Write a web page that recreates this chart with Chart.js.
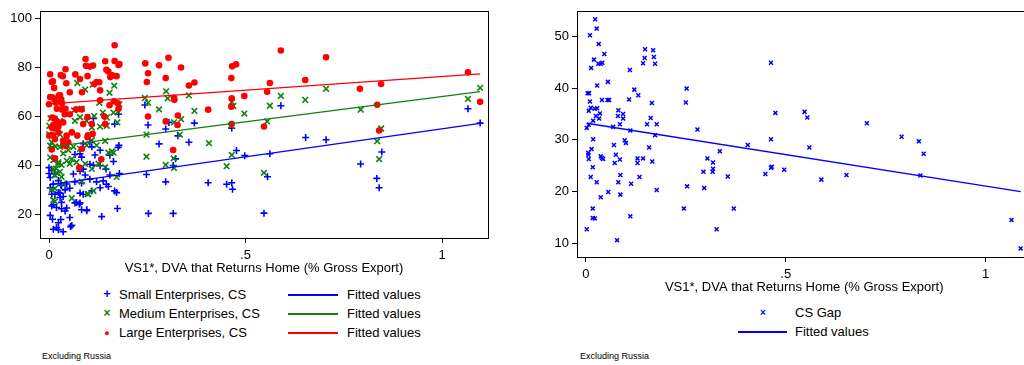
<!DOCTYPE html>
<html>
<head>
<meta charset="utf-8">
<script src="https://cdn.jsdelivr.net/npm/chart.js@4"></script>
<style>
  html, body { margin: 0; padding: 0; background: #fff; overflow: hidden; width: 1024px; height: 365px; }
  body { position: relative; font-family: "Liberation Sans", Arial, sans-serif; color: #000; }
  canvas { position: absolute; top: 0; }
  #leftChart { left: 0; }
  #rightChart { left: 537px; }
  .lg { position: absolute; font-size: 13px; line-height: 16px; white-space: nowrap; }
  .mk { position: absolute; text-align: center; width: 14px; line-height: 16px; }
  .ln { position: absolute; height: 1.5px; }
  .note { position: absolute; font-size: 9px; white-space: nowrap; }
</style>
</head>
<body>
<canvas id="leftChart" width="500" height="276"></canvas>
<canvas id="rightChart" width="500" height="295"></canvas>

<!-- left legend -->
<div class="mk" style="left:100px; top:286px; color:#0000ff; font-size:13px; font-weight:bold;">+</div>
<div class="lg" style="left:119px; top:287px;">Small Enterprises, CS</div>
<div class="ln" style="left:288px; top:294px; width:50px; background:#0000ff;"></div>
<div class="lg" style="left:347px; top:287px;">Fitted values</div>

<div class="mk" style="left:100px; top:305px; color:#108010; font-size:12px; font-weight:bold;">×</div>
<div class="lg" style="left:119px; top:306px;">Medium Enterprises, CS</div>
<div class="ln" style="left:288px; top:313px; width:50px; background:#108010;"></div>
<div class="lg" style="left:347px; top:306px;">Fitted values</div>

<div class="mk" style="left:100px; top:325px; color:#ff0000; font-size:9px;">●</div>
<div class="lg" style="left:119px; top:325px;">Large Enterprises, CS</div>
<div class="ln" style="left:288px; top:332px; width:50px; background:#ff0000;"></div>
<div class="lg" style="left:347px; top:325px;">Fitted values</div>

<div class="note" style="left:42px; top:351px;">Excluding Russia</div>

<!-- right legend -->
<div class="mk" style="left:756px; top:305px; color:#0000ff; font-size:10px; font-weight:bold;">×</div>
<div class="lg" style="left:795px; top:305px;">CS Gap</div>
<div class="ln" style="left:738px; top:331px; width:49px; background:#0000ff;"></div>
<div class="lg" style="left:795px; top:324px;">Fitted values</div>

<div class="note" style="left:580px; top:351px;">Excluding Russia</div>

<script>
// --- Data (x = VS1* share, y = value) ---
let smallCS = [
  [0.000,39.2],[0.007,38.2],[0.003,35.2],[0.011,32.5],[0.015,36.6],[0.024,33.9],[0.032,31.9],[0.003,31.0],
  [0.007,28.3],[0.015,28.3],[0.024,29.0],[0.028,27.0],[0.032,25.0],[0.007,23.5],[0.019,22.9],[0.032,22.4],
  [0.041,21.5],[0.003,19.7],[0.009,18.1],[0.024,16.7],[0.011,14.0],[0.024,13.8],[0.036,13.0],[0.055,15.1],
  [0.053,18.8],[0.070,25.0],[0.077,24.3],[0.083,22.0],[0.096,21.6],[0.134,19.2],[0.087,28.3],[0.109,29.7],
  [0.130,31.0],[0.146,32.4],[0.167,29.7],[0.172,29.0],[0.174,22.5],[0.045,32.5],[0.066,33.4],[0.083,32.9],
  [0.104,34.5],[0.121,33.4],[0.062,36.6],[0.087,38.6],[0.104,40.6],[0.130,40.0],[0.145,38.6],[0.164,41.7],
  [0.155,44.3],[0.130,46.3],[0.109,47.7],[0.176,47.5],[0.087,49.0],[0.104,49.6],[0.083,43.5],[0.079,44.9],
  [0.253,20.5],[0.316,20.5],[0.297,33.4],[0.316,40.1],[0.322,42.8],[0.328,52.2],[0.356,49.6],[0.280,48.9],
  [0.248,36.4],[0.405,33.0],[0.452,32.4],[0.465,33.0],[0.467,30.4],[0.477,46.2],[0.498,44.1],
  [0.562,44.9],[0.653,51.5],[0.705,50.6],[0.793,40.7],[0.834,34.8],[0.840,31.0],[0.847,45.6],[0.556,35.5],
  [0.547,20.6],[1.097,57.4],[0.590,64.5],[1.066,63.3],
  [0.113,59.3],[0.167,57.0],[0.177,61.0],[0.244,64.8],[0.252,56.6],[0.297,55.0],[0.305,57.7],[0.370,57.4],
  [0.465,55.3],[0.178,48.3],[0.117,44.4],[0.066,44.6],[0.000,36.8],[0.030,32.1],[0.041,30.1],[0.053,30.8],
  [0.028,28.8],[0.036,27.4],[0.011,24.1],[0.045,22.7],[0.030,18.0],[0.058,15.6],[0.019,14.7],[0.079,28.8],
  [0.096,22.0],[0.151,31.5],[0.138,33.8],[0.113,40.2],[0.155,36.2],[0.179,36.8],[0.079,37.8],[0.092,36.2],
  [0.066,24.8],[0.079,24.8]
];

let mediumCS = [
  [0.590,68.5],[0.562,64.5],[0.497,61.3],[0.652,66.9],[0.705,71.4],[0.555,58.1],[0.793,62.9],[1.066,67.3],
  [1.097,71.8],[0.845,55.2],[0.835,50.0],[0.840,42.7],[0.547,37.1],
  [0.072,73.8],[0.092,71.1],[0.111,73.1],[0.166,72.7],[0.154,69.8],[0.128,65.7],[0.083,63.3],[0.115,60.3],
  [0.137,61.7],[0.147,59.7],[0.164,61.7],[0.176,62.0],[0.179,65.1],[0.244,67.7],[0.252,65.7],[0.280,63.0],
  [0.298,70.4],[0.302,67.5],[0.318,57.7],[0.336,59.0],[0.356,68.7],[0.370,62.4],[0.465,66.0],[0.469,64.4],
  [0.463,56.3],[0.004,59.3],[0.028,58.3],[0.066,58.3],[0.079,59.8],[0.096,58.3],[0.109,55.6],[0.130,56.0],
  [0.147,56.3],[0.174,57.7],[0.011,55.6],[0.064,62.6],
  [0.001,56.3],[0.003,52.3],[0.007,49.6],[0.015,47.9],[0.028,47.6],[0.045,48.6],[0.079,46.9],[0.096,48.3],
  [0.121,48.3],[0.151,45.3],[0.164,45.3],[0.003,43.4],[0.015,42.7],[0.024,41.4],[0.032,40.3],[0.045,42.0],
  [0.058,42.7],[0.070,41.4],[0.092,40.7],[0.109,38.7],[0.011,38.7],[0.019,37.1],[0.032,35.4],[0.036,32.7],
  [0.015,30.7],[0.011,26.0],[0.058,26.7],[0.098,28.4],[0.172,35.4],[0.248,43.7],[0.297,40.3],[0.318,39.1],
  [0.317,43.0],[0.407,49.2],[0.452,39.8],[0.465,44.4],[0.333,52.7],[0.248,52.7],
  [0.003,48.2],[0.011,42.2],[0.024,40.8],[0.018,38.8],[0.028,37.5],[0.015,36.2],[0.007,30.1],[0.015,25.4],
  [0.083,33.5],[0.100,28.4],[0.113,29.7],[0.160,45.8],[0.126,40.8],[0.143,39.4],[0.053,40.8],[0.036,45.0],
  [0.049,46.4],[0.062,47.7],[0.109,50.4],[0.143,50.1],[0.028,52.8],[0.045,51.7],[0.000,52.8]
];

let largeCS = [
  [0.003,77.4],[0.007,74.2],[0.010,74.5],[0.013,71.8],[0.030,77.0],[0.035,76.6],[0.042,79.4],[0.044,73.7],
  [0.053,70.0],[0.067,77.3],[0.079,75.4],[0.084,70.0],[0.093,83.6],[0.094,80.8],[0.098,76.6],[0.104,80.5],
  [0.112,80.9],[0.115,73.4],[0.121,74.2],[0.128,74.1],[0.130,70.8],[0.143,82.7],[0.146,79.2],[0.151,78.5],
  [0.156,76.2],[0.161,76.9],[0.167,89.2],[0.167,82.8],[0.172,76.6],[0.177,81.2],[0.179,81.5],
  [0.000,65.1],[0.003,68.1],[0.008,68.0],[0.014,67.1],[0.018,65.7],[0.025,68.7],[0.028,68.8],[0.031,67.1],
  [0.033,65.5],[0.020,63.3],[0.033,63.0],[0.042,63.3],[0.053,61.0],[0.069,63.0],[0.083,63.0],[0.098,59.9],
  [0.109,57.0],[0.130,66.7],[0.141,60.1],[0.143,57.0],[0.154,64.7],[0.165,66.3],[0.175,65.5],[0.177,63.3],
  [0.008,59.7],[0.015,59.3],[0.020,57.9],[0.011,56.6],[0.014,55.2],[0.024,56.0],[0.036,57.7],[0.040,61.0],
  [0.001,52.3],[0.007,55.6],[0.024,53.6],[0.036,50.3],[0.045,52.3],[0.049,49.6],[0.058,53.6],[0.072,52.3],
  [0.087,57.0],[0.098,51.6],[0.111,53.0],[0.084,46.9],[0.077,39.2],[0.133,42.6],[0.015,43.0],[0.007,46.6],
  [0.010,52.4],[0.015,50.8],[0.036,48.4],[0.043,48.0],[0.099,52.4],
  [0.245,81.8],[0.252,77.8],[0.249,74.2],[0.280,81.0],[0.304,84.1],[0.297,75.8],[0.336,80.1],[0.356,72.8],
  [0.370,74.0],[0.318,67.7],[0.319,66.9],[0.328,60.5],[0.252,60.1],[0.297,58.1],[0.405,62.9],[0.466,80.6],
  [0.476,81.4],[0.464,75.8],[0.497,68.5],[0.465,67.5],[0.464,64.1],[0.465,57.0],[0.316,46.4],[0.327,56.6],
  [0.590,87.1],[0.705,84.3],[0.562,73.8],[0.652,75.0],[0.555,70.2],[0.791,71.4],[0.845,73.4],[1.066,78.2],
  [1.097,66.1],[0.835,64.9],[0.547,56.0],[0.840,54.4]
];

let csGap = [
  [0.023,53.3],[0.027,51.5],[0.010,50.2],[0.032,48.5],[0.013,43.9],[0.020,45.5],[0.046,46.6],[0.031,44.7],
  [0.037,44.7],[0.041,44.9],[0.028,40.5],[0.055,41.2],[0.004,39.0],[0.008,39.0],[0.010,37.4],[0.040,37.7],
  [0.054,37.7],[0.058,37.7],[0.007,35.6],[0.012,36.2],[0.022,36.0],[0.028,36.1],[0.025,34.6],[0.035,35.1],
  [0.033,34.1],[0.018,33.7],[0.002,32.3],[0.007,32.9],[0.068,32.5],[0.081,35.7],[0.080,34.6],[0.093,35.0],
  [0.093,34.1],[0.085,33.0],[0.110,43.5],[0.108,37.8],[0.121,39.7],[0.131,38.6],[0.143,44.8],[0.147,45.8],
  [0.148,47.5],[0.168,47.3],[0.170,46.0],[0.173,44.7],[0.165,37.1],[0.162,34.2],[0.153,33.0],[0.177,33.0],
  [0.111,31.8],[0.173,30.9],[0.252,39.9],[0.250,37.2],[0.279,32.0],[0.463,44.9],[0.474,35.2],[0.018,30.1],
  [0.097,29.9],[0.463,30.1],[0.547,35.4],[0.554,34.3],[0.703,33.2],[0.790,30.6],[0.833,29.7],
  [0.006,27.5],[0.006,27.1],[0.007,26.3],[0.014,28.2],[0.017,24.7],[0.012,22.8],[0.027,21.8],[0.037,26.8],
  [0.043,26.3],[0.040,26.5],[0.037,18.9],[0.017,16.7],[0.022,14.8],[0.017,14.9],[0.002,12.7],[0.056,19.9],
  [0.070,29.0],[0.075,27.1],[0.072,25.5],[0.085,26.2],[0.086,23.2],[0.081,21.8],[0.086,19.4],[0.078,10.6],
  [0.100,29.4],[0.129,26.4],[0.129,25.5],[0.143,26.4],[0.134,22.8],[0.113,21.5],[0.111,15.2],[0.158,28.5],
  [0.166,25.8],[0.177,20.3],[0.245,16.7],[0.253,21.0],[0.294,23.8],[0.304,26.4],[0.296,20.7],[0.318,24.4],
  [0.318,25.6],[0.317,23.8],[0.335,27.8],[0.327,12.7],[0.355,22.9],[0.370,16.7],[0.405,29.0],[0.449,23.4],
  [0.463,24.6],[0.465,24.8],[0.496,24.2],[0.559,28.5],[0.589,22.3],[0.652,23.2],[0.845,27.3],[0.837,23.1],
  [1.065,14.5],[1.088,9.0]
];

// fitted line end points
let fitXLeft = [0.000, 1.097];
let smallFit = [32.2, 57.3];
let mediumFit = [47.6, 70.3];
let largeFit = [65.3, 77.5];
let fitXRight = [0.002, 1.088];
let gapFit = [33.2, 20.0];

// tick labels
let xTickValues = [0, 0.5, 1];
let xTickLabels = ['0', '.5', '1'];
let yTicksLeft = [20, 40, 60, 80, 100];
let yTicksRight = [10, 20, 30, 40, 50];
let xTitle = 'VS1*, DVA that Returns Home (% Gross Export)';

// --- Helpers ---
const FONT = { family: '"Liberation Sans", Arial, sans-serif', size: 13 };
const BLUE = '#0000ff', GREEN = '#108010', RED = '#ff0000';

function toPoints(arr){
    return arr.map(p => ({x: p[0], y: p[1]}));
}

function fitLine(xs, ys){
    return xs.map((x, i) => ({x: x, y: ys[i]}));
}

const framePlugin = {
    id: 'frame',
    afterDraw(chart){
        let a = chart.chartArea, ctx = chart.ctx;
        ctx.save();
        ctx.strokeStyle = '#000';
        ctx.lineWidth = 1;
        ctx.strokeRect(Math.round(a.left) + 0.5, Math.round(a.top) + 0.5,
                       Math.round(a.right - a.left), Math.round(a.bottom - a.top));
        ctx.restore();
    }
};

function scalesFor(xMin, xMax, yMin, yMax, yTicks){
    return {
        x: {
            type: 'linear', min: xMin, max: xMax,
            afterBuildTicks: s => { s.ticks = xTickValues.map(v => ({value: v})); },
            afterFit: s => { s.height = 38; },
            ticks: { font: FONT, color: '#000', padding: 5, maxRotation: 0,
                     callback: v => xTickLabels[xTickValues.indexOf(v)] },
            grid: { display: true, drawOnChartArea: false, drawTicks: true, tickLength: 5, color: '#000' },
            border: { display: false },
            title: { display: true, text: xTitle, font: FONT, color: '#000', padding: 0 }
        },
        y: {
            type: 'linear', min: yMin, max: yMax,
            afterBuildTicks: s => { s.ticks = yTicks.map(v => ({value: v})); },
            afterFit: s => { s.width = 40; },
            ticks: { font: FONT, color: '#000', padding: 3 },
            grid: { display: true, drawOnChartArea: false, drawTicks: true, tickLength: 5, color: '#000' },
            border: { display: false }
        }
    };
}

// --- Left chart ---
new Chart(document.getElementById('leftChart').getContext('2d'), {
    type: 'scatter',
    data: {
        datasets: [
            { label: 'Fitted values', data: fitLine(fitXLeft, smallFit), showLine: true, pointRadius: 0,
              borderColor: BLUE, borderWidth: 1.3, order: 0 },
            { label: 'Fitted values', data: fitLine(fitXLeft, mediumFit), showLine: true, pointRadius: 0,
              borderColor: GREEN, borderWidth: 1.3, order: 0 },
            { label: 'Fitted values', data: fitLine(fitXLeft, largeFit), showLine: true, pointRadius: 0,
              borderColor: RED, borderWidth: 1.3, order: 0 },
            { label: 'Large Enterprises, CS', data: toPoints(largeCS), pointStyle: 'circle', pointRadius: 3.3,
              backgroundColor: RED, borderColor: RED, borderWidth: 0, order: 1 },
            { label: 'Medium Enterprises, CS', data: toPoints(mediumCS), pointStyle: 'crossRot', pointRadius: 4,
              borderColor: GREEN, borderWidth: 1.6, order: 2 },
            { label: 'Small Enterprises, CS', data: toPoints(smallCS), pointStyle: 'cross', pointRadius: 3.5,
              borderColor: BLUE, borderWidth: 1.6, order: 3 }
        ]
    },
    options: {
        responsive: false, animation: false,
        layout: { padding: { left: 0, top: 7, right: 12, bottom: 0 } },
        plugins: { legend: { display: false }, tooltip: { enabled: false } },
        scales: scalesFor(-0.0229, 1.117, 10.45, 103.3, yTicksLeft)
    },
    plugins: [framePlugin]
});

// --- Right chart ---
new Chart(document.getElementById('rightChart').getContext('2d'), {
    type: 'scatter',
    data: {
        datasets: [
            { label: 'Fitted values', data: fitLine(fitXRight, gapFit), showLine: true, pointRadius: 0,
              borderColor: BLUE, borderWidth: 1.3, order: 0 },
            { label: 'CS Gap', data: toPoints(csGap), pointStyle: 'crossRot', pointRadius: 2.8,
              borderColor: BLUE, borderWidth: 1.5, order: 1 }
        ]
    },
    options: {
        responsive: false, animation: false,
        layout: { padding: { left: 0, top: 7, right: 2, bottom: 0 } },
        plugins: { legend: { display: false }, tooltip: { enabled: false } },
        scales: scalesFor(-0.0224, 1.115, 7.34, 54.94, yTicksRight)
    },
    plugins: [framePlugin]
});
</script>
</body>
</html>
